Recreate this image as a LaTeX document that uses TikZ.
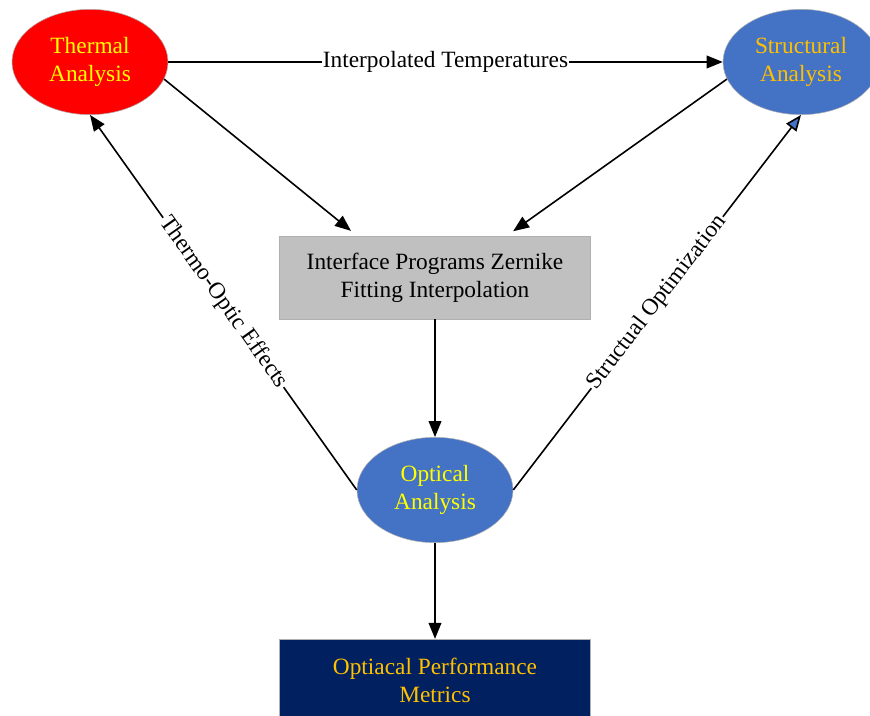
\documentclass[tikz,border=0pt]{standalone}
\usepackage{fontspec}
\setmainfont{Liberation Serif}
\usetikzlibrary{shapes.geometric, arrows.meta, calc}
\definecolor{tinta}{HTML}{000000}
\definecolor{rojo}{HTML}{FF0000}
\definecolor{azul}{HTML}{4472C4}
\definecolor{marino}{HTML}{002060}
\definecolor{gris}{HTML}{C0C0C0}
\definecolor{bordegris}{HTML}{B0B0B0}
\definecolor{amarillo}{HTML}{FFFF00}
\definecolor{oro}{HTML}{FFC000}
\newcommand{\texto}{\fontsize{17.5}{21}\selectfont}
\tikzset{
  % Nodos de análisis: elipses rellenas
  analisis/.style = {ellipse, draw=bordegris, line width=0.4pt, inner sep=0pt,
                     minimum width=117pt, minimum height=79pt, align=center, font=\texto},
  % Cajas rectangulares (programas, métricas)
  caja/.style     = {rectangle, draw=bordegris, line width=0.4pt,
                     minimum width=233pt, minimum height=62pt, align=center, font=\texto},
  % Flechas de flujo entre análisis
  flecha/.style   = {line width=1.2pt, color=tinta, -{Triangle[length=12pt, width=9.5pt]}},
  % Etiquetas sobre las flechas (cortan la línea)
  etiqueta/.style = {fill=white, inner sep=1pt, font=\texto, text=tinta},
}

\begin{document}
\begin{tikzpicture}[x=0.75pt, y=-0.75pt]
  \useasboundingbox (0,0) rectangle (870,716);

  % Nodos
  \node[analisis, fill=rojo, text=amarillo]  (termico)     at (90,62)     {Thermal\\Analysis};
  \node[analisis, fill=azul, text=oro]       (estructural) at (801,62)    {Structural\\Analysis};
  \node[caja, fill=gris, text=tinta]         (interfaz)    at (435,277.5) {Interface Programs Zernike\\Fitting Interpolation};
  \node[analisis, fill=azul, text=amarillo]  (optico)      at (435,490)   {Optical\\Analysis};
  \node[caja, fill=marino, text=oro]         (metricas)    at (435,680.5) {Optiacal Performance\\Metrics};

  % Conexiones
  \draw[flecha] (termico.east) -- node[etiqueta] {Interpolated Temperatures} (estructural.west);
  \draw[flecha, shorten >=6pt] (termico.-13)
    -- ($(interfaz.north west)!.25!(interfaz.north east)$);
  \draw[flecha, shorten >=6pt] (estructural.193)
    -- ($(interfaz.north west)!.73!(interfaz.north east)$);
  \draw[flecha] (interfaz) -- (optico);
  \draw[flecha] (optico.west) -- node[etiqueta, sloped] {Thermo-Optic Effects} (termico.south);
  \draw[line width=1.2pt, color=tinta, -{Triangle[length=12pt, width=9.5pt, fill=azul]}]
    (optico.east) -- node[etiqueta, sloped] {Structual Optimization} (estructural.south);
  \draw[flecha] (optico) -- (metricas);

\end{tikzpicture}
\end{document}
